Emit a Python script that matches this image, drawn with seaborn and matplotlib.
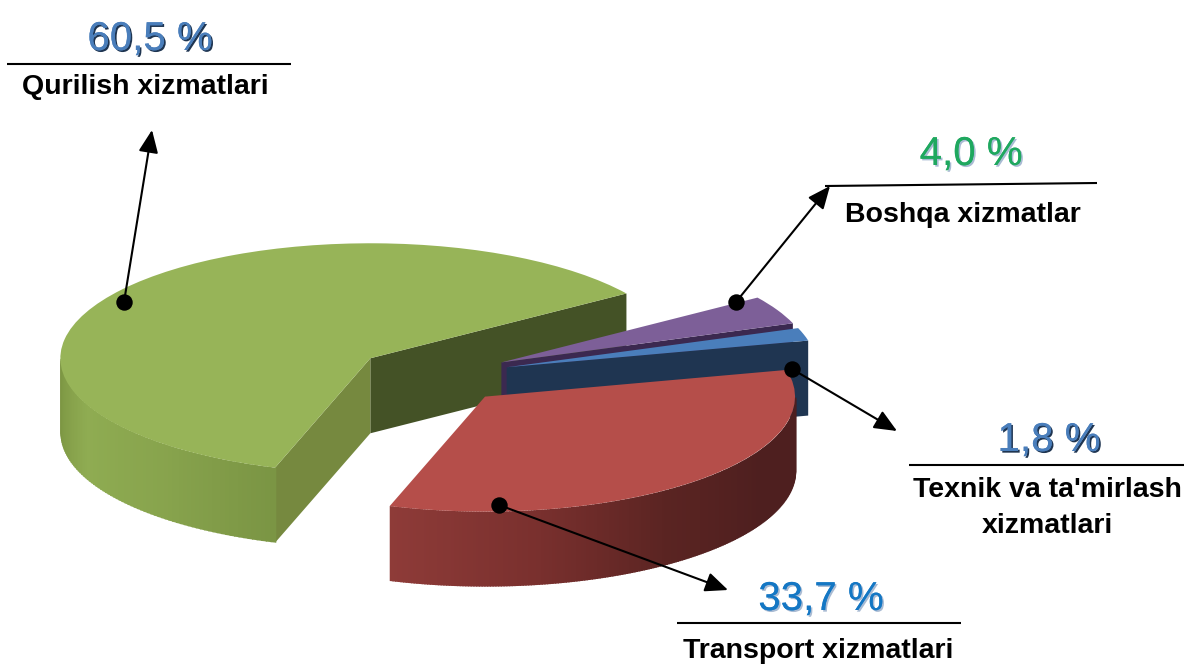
import numpy as np
import matplotlib
matplotlib.use("Agg")
import matplotlib.pyplot as plt
import matplotlib.patheffects as pe
from matplotlib.transforms import Affine2D
import seaborn as sns

categorias = ["Qurilish xizmatlari", "Transport xizmatlari", "Texnik va ta'mirlash\nxizmatlari", "Boshqa xizmatlar"]
valores = [60.5, 33.7, 1.8, 4.0]
etiquetas = ["60,5 %", "33,7 %", "1,8 %", "4,0 %"]

colores_top = ["#97B458", "#B54E4A", "#4A7EBB", "#7D5F98"]
colores_corte = ["#445226", "#5A2422", "#1F3551", "#3B2950"]
colores_num = ["#4A7EBB", "#1477C4", "#4A7EBB", "#1FA85F"]
sombras_num = ["#1F3551", "#A9BBD3", "#1F3551", "#A9BBD3"]

# pixeles de la imagen original
centro_x, centro_y = 432.4, 375.5
radio_x, radio_y = 310, 115
profundidad = 75 / radio_y
inicio = 34.3

pos_num = [(150, 39), (821, 599), (1049, 440), (971, 154)]
pos_cat = [(145, 87), (818, 651), (1047, 508), (963, 215)]
lineas = [((7, 291), (64, 64)), ((677, 961), (623, 623)), ((909, 1184), (465, 465)), ((825, 1097), (186, 183))]
puntos = [(124, 302), (499, 505), (792, 369), (736, 302)]
flechas = [(152, 130), (728, 590), (897, 431), (830, 186)]

sns.set_theme(style="white")
plt.rcParams["font.family"] = ["Liberation Sans", "DejaVu Sans"]

fig = plt.figure(figsize=(11.84, 6.64), dpi=100)
ax = fig.add_axes([0, 0, 1, 1])

wedges, _ = ax.pie(
    valores,
    colors=colores_top,
    startangle=inicio,
    explode=[0.25] * len(valores),
    radius=1,
    wedgeprops={"linewidth": 0},
)
ax.set_aspect("auto")
ax.set_xlim(0, 1184)
ax.set_ylim(664, 0)
ax.axis("off")

escala = Affine2D().scale(radio_x, -radio_y).translate(centro_x, centro_y) + ax.transData


def color_pared(i, n):
    if i == 0:
        return sns.blend_palette(["#7A9341", "#8FAC52", "#88A44D", "#7B9544"], n)
    if i == 1:
        return sns.blend_palette(["#8E3B38", "#7A302E", "#5A2422", "#4E1F1F", "#4E1F1F"], n)
    return [colores_corte[i]] * n


def pintar_pared(w, i, z):
    cx, cy = w.center
    t = np.radians(np.linspace(w.theta1, w.theta2, 240))
    t = t[np.sin(t) < 0]
    if len(t) > 1:
        paleta = color_pared(i, len(t) - 1)
        for k in range(len(t) - 1):
            xs = cx + np.cos(t[k:k + 2])
            ys = cy + np.sin(t[k:k + 2])
            ax.fill(
                [xs[0], xs[1] + 0.004, xs[1] + 0.004, xs[0]],
                [ys[0], ys[1], ys[1] - profundidad, ys[0] - profundidad],
                color=paleta[k], lw=0, transform=escala, zorder=z,
            )


def pintar_corte(w, angulo, color, z):
    cx, cy = w.center
    a = np.radians(angulo)
    xs = [cx, cx + np.cos(a), cx + np.cos(a), cx]
    ys = [cy, cy + np.sin(a), cy + np.sin(a) - profundidad, cy - profundidad]
    ax.fill(xs, ys, color=color, lw=0, transform=escala, zorder=z)


# orden de atras hacia adelante: verde, morado, azul, rojo
for z, i in enumerate([0, 3, 2, 1]):
    w = wedges[i]
    base = 10 * (z + 1)
    if i == 0:
        pintar_corte(w, w.theta1, colores_corte[0], base)
        pintar_corte(w, w.theta2, "#76893F", base)
    elif i in (2, 3):
        pintar_corte(w, w.theta1, colores_corte[i], base)
    pintar_pared(w, i, base + 1)
    w.set_transform(escala)
    w.set_zorder(base + 2)

for i in range(len(valores)):
    ax.annotate(
        "", xy=flechas[i], xytext=puntos[i], zorder=60,
        arrowprops=dict(arrowstyle="-|>,head_length=1.15,head_width=0.5", color="black", lw=1.5, shrinkA=0, shrinkB=0),
    )
    ax.plot(*lineas[i], color="black", lw=1.5, zorder=60, solid_capstyle="butt")
    ax.text(
        *pos_num[i], etiquetas[i], color=colores_num[i], fontsize=29, ha="center", va="center", zorder=70,
        path_effects=[pe.withSimplePatchShadow(offset=(1.2, -1.2), shadow_rgbFace=sombras_num[i], alpha=1), pe.Normal()],
    )
    ax.text(
        *pos_cat[i], categorias[i], color="black", fontsize=20.5, fontweight="bold",
        ha="center", va="center", linespacing=1.54, zorder=70,
    )

ax.scatter(*zip(*puntos), s=140, color="black", linewidths=0, zorder=65)

fig.savefig("out.png", dpi=100, facecolor="white")
